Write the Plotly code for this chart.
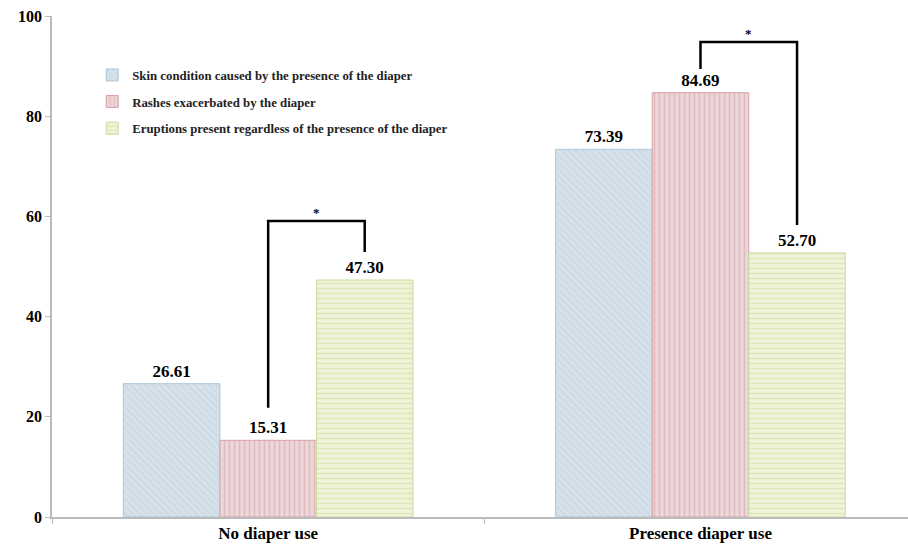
import plotly.graph_objects as go

# Diaper use groups and percentages for each rash category
groups = ["No diaper use", "Presence diaper use"]
series_names = [
    "Skin condition caused by the presence of the diaper",
    "Rashes exacerbated by the diaper",
    "Eruptions present regardless of the presence of the diaper",
]
skin_condition = [26.61, 73.39]
rashes_exacerbated = [15.31, 84.69]
eruptions_regardless = [47.30, 52.70]

y_ticks = [0, 20, 40, 60, 80, 100]

# Significance brackets: heights of each bracket within the two groups
bracket_top = [59.1, 94.8]
bracket_left_end = [21.8, 89.4]
bracket_right_end = [52.9, 58.3]

FONT = "'Times New Roman', 'Liberation Serif', serif"

styles = [
    dict(fill="#d6e1e9", fg="#a9c4db", line="#aec6d8", shape="\\", op=0.3),
    dict(fill="#ebd6d9", fg="#d8a2aa", line="#d6a0a7", shape="|", op=0.55),
    dict(fill="#eef3da", fg="#d2e1a8", line="#cddc9e", shape="-", op=0.65),
]

fig = go.Figure()
for k, (name, vals, st) in enumerate(zip(series_names, [skin_condition, rashes_exacerbated, eruptions_regardless], styles)):
    fig.add_trace(go.Bar(
        x=groups, y=vals, name=name, legendgroup=f"g{k}",
        marker=dict(
            color=st["fill"],
            line=dict(color=st["line"], width=1),
            pattern=dict(shape=st["shape"], fgcolor=st["fg"], bgcolor=st["fill"],
                         size=5, solidity=0.3, fgopacity=st["op"]),
        ),
        texttemplate="%{y:.2f}", textposition="outside",
        textfont=dict(family=FONT, size=17, color="black", weight="bold"),
        cliponaxis=False,
    ))

# Brackets drawn on an overlaid numeric axis sharing the category scale
bar_w = (1 - 0.33) / 3
for i in range(len(groups)):
    xl = i  # centre of the middle bar
    xr = i + bar_w  # centre of the right bar
    fig.add_trace(go.Scatter(
        x=[xl, xl, xr, xr],
        y=[bracket_left_end[i], bracket_top[i], bracket_top[i], bracket_right_end[i]],
        mode="lines", line=dict(color="black", width=2.5),
        xaxis="x2", showlegend=False, hoverinfo="skip",
    ))
    fig.add_annotation(
        x=(xl + xr) / 2, y=bracket_top[i], xref="x2", yref="y",
        text="*", showarrow=False, yanchor="bottom", yshift=-1,
        font=dict(family=FONT, size=13, color="black", weight="bold"),
    )

x_range = [-0.5, 1.48]
fig.update_layout(
    width=908, height=551,
    margin=dict(l=52, r=0, t=16, b=34),
    paper_bgcolor="white", plot_bgcolor="white",
    barmode="group", bargap=0.33, bargroupgap=0,
    font=dict(family=FONT, color="black"),
    xaxis=dict(
        type="category", range=x_range, tickson="boundaries",
        ticks="outside", ticklen=5, tickcolor="#bbbbbb",
        showline=True, linecolor="#bbbbbb", linewidth=1.5,
        showgrid=False, zeroline=False,
        tickfont=dict(family=FONT, size=17, color="black", weight="bold"),
    ),
    xaxis2=dict(
        overlaying="x", range=x_range, visible=False,
    ),
    yaxis=dict(
        range=[0, 100], tickvals=y_ticks,
        ticks="outside", ticklen=5, tickcolor="#bbbbbb",
        showline=True, linecolor="#bbbbbb", linewidth=1.5,
        showgrid=False, zeroline=False,
        tickfont=dict(family=FONT, size=16, color="black", weight="bold"),
    ),
    legend=dict(
        x=0.047, y=0.912, xanchor="left", yanchor="top",
        font=dict(family=FONT, size=12.8, color="#222222", weight="bold"),
        bgcolor="rgba(0,0,0,0)", traceorder="grouped", tracegroupgap=7,
        itemwidth=30,
    ),
)

fig.write_html("out.html")
